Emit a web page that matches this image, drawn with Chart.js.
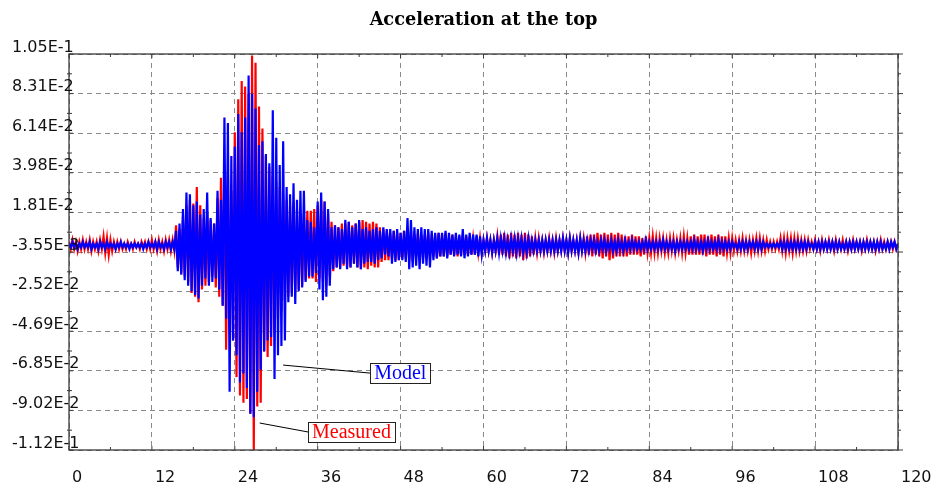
<!DOCTYPE html>
<html>
<head>
<meta charset="utf-8">
<script src="https://cdn.jsdelivr.net/npm/chart.js@4.4.1/dist/chart.umd.min.js"></script>
<style>
  html, body { margin: 0; padding: 0; background: #fff; }
  canvas { display: block; }
</style>
</head>
<body>
<canvas id="chart" width="933" height="486"></canvas>
<script>
// acceleration peaks, in units of 1e-3, one value every 0.25 s
const sampleStep = 0.25;

const measured = [
  2,-2,3,-2,2,-3,2,-2,3,-2,2,-2,3,-3,2,-2,2,-3,3,-2,
  5,-4,4,-5,3,-3,2,-2,2,-2,2,-2,1,-2,2,-1,1,-2,2,-1,
  1,-2,2,-1,2,-2,2,-2,3,-2,2,-3,3,-2,2,-3,3,-2,3,-3,
  3,-3,11,-12,9,-15,16,-17,22,-20,25,-26,23,-28,32,-31,22,-24,15,-22,
  18,-20,14,-17,12,-23,26,-28,37,-33,45,-57,40,-48,30,-52,62,-72,80,-82,
  90,-86,87,-84,83,-92,104,-112,100,-88,76,-86,64,-58,49,-61,43,-55,38,-48,
  35,-40,32,-36,28,-30,25,-28,22,-26,24,-25,20,-24,18,-22,17,-19,19,-18,
  19,-18,20,-20,22,-18,25,-20,24,-22,18,-17,13,-14,11,-12,10,-12,12,-11,
  12,-11,13,-12,11,-10,12,-12,13,-13,14,-12,13,-13,12,-11,13,-12,12,-12,
  10,-9,9,-8,8,-8,7,-7,8,-8,7,-8,7,-7,8,-7,9,-8,8,-9,
  6,-6,7,-6,6,-7,6,-6,7,-6,6,-6,6,-7,7,-6,6,-6,7,-6,
  5,-5,6,-5,5,-6,5,-5,6,-5,5,-5,5,-5,4,-5,5,-4,4,-4,
  3,-3,4,-3,3,-4,3,-3,5,-5,6,-5,7,-6,6,-7,7,-6,6,-7,
  7,-6,6,-8,7,-7,6,-6,5,-5,4,-4,4,-3,3,-4,3,-3,4,-3,
  3,-4,4,-3,3,-3,4,-3,3,-4,4,-3,3,-3,3,-4,4,-3,4,-4,
  5,-5,6,-6,6,-5,7,-6,6,-7,7,-6,6,-8,7,-7,6,-6,7,-6,
  6,-6,5,-6,5,-5,6,-5,5,-5,5,-6,4,-5,5,-4,4,-4,5,-4,
  4,-4,4,-3,4,-4,3,-4,4,-3,4,-4,3,-3,4,-4,5,-4,4,-5,
  5,-5,6,-5,5,-5,6,-5,6,-6,5,-5,6,-5,5,-6,6,-5,5,-6,
  5,-4,4,-4,4,-3,3,-3,3,-3,4,-3,3,-3,3,-4,3,-3,4,-3,
  4,-3,3,-3,3,-2,2,-2,2,-2,2,-2,4,-3,4,-4,4,-3,4,-4,
  4,-3,4,-3,3,-3,3,-3,3,-2,2,-2,3,-2,2,-3,3,-2,2,-2,
  3,-2,2,-3,3,-2,2,-2,3,-2,2,-3,2,-2,3,-2,2,-2,2,-3,
  2,-2,3,-2,2,-2,2,-3,2,-2,3,-2,2,-2,2,-2,2,-2,2,-2,
  1
];

const model = [
  1,-1,2,-1,1,-2,1,-1,2,-1,1,-1,2,-2,1,-1,1,-2,2,-1,
  1,-2,2,-1,1,-1,1,-2,1,-1,2,-1,1,-1,1,-2,1,-1,1,-1,
  1,-1,1,-2,1,-1,2,-1,1,-1,2,-2,2,-1,1,-2,2,-1,2,-2,
  2,-2,8,-14,12,-16,20,-19,29,-22,28,-25,22,-27,24,-29,17,-22,20,-18,
  29,-22,15,-20,12,-18,30,-24,25,-33,70,-40,67,-80,49,-52,54,-60,72,-75,
  62,-70,70,-78,93,-92,83,-94,75,-80,55,-68,57,-58,50,-52,45,-50,74,-73,
  59,-60,44,-55,57,-52,32,-31,28,-28,34,-32,25,-25,30,-23,30,-20,14,-17,
  13,-17,10,-15,24,-24,29,-30,24,-28,20,-22,10,-13,11,-12,10,-13,9,-10,
  14,-13,13,-12,10,-10,12,-12,14,-13,9,-10,10,-9,8,-9,9,-10,10,-8,
  8,-7,10,-5,9,-6,9,-10,8,-9,9,-8,7,-8,8,-9,15,-13,14,-12,
  10,-11,9,-13,10,-10,9,-11,9,-12,8,-8,7,-7,7,-6,7,-6,8,-7,
  7,-5,6,-6,7,-5,6,-6,9,-7,6,-6,7,-5,6,-5,6,-6,5,-5,
  3,-3,4,-3,3,-4,3,-3,4,-4,4,-3,4,-4,3,-4,4,-3,4,-4,
  4,-3,4,-4,3,-4,4,-3,3,-3,3,-3,3,-3,3,-3,3,-3,3,-3,
  3,-3,3,-3,3,-3,4,-3,3,-4,4,-3,3,-3,3,-4,4,-3,3,-3,
  3,-3,3,-2,3,-3,2,-3,3,-2,3,-3,2,-2,3,-3,2,-3,3,-2,
  2,-3,3,-2,2,-2,3,-2,2,-2,2,-2,2,-2,3,-2,2,-2,2,-2,
  2,-2,2,-2,3,-2,2,-2,2,-2,2,-3,2,-2,2,-2,2,-2,2,-2,
  2,-2,3,-2,2,-2,2,-3,2,-2,3,-2,2,-2,2,-2,3,-2,2,-2,
  2,-2,2,-2,2,-1,1,-2,2,-2,2,-2,2,-2,2,-1,2,-2,2,-2,
  2,-2,2,-1,1,-1,1,-1,1,-1,1,-1,2,-2,2,-2,2,-2,2,-2,
  2,-2,2,-2,2,-2,2,-2,2,-1,1,-2,2,-2,2,-2,2,-2,2,-2,
  2,-2,2,-2,2,-2,2,-2,1,-2,2,-2,2,-2,2,-2,2,-2,2,-2,
  2,-2,2,-2,2,-2,2,-2,2,-2,2,-2,1,-2,2,-2,2,-1,2,-2,
  1
];

const xTicks = [0, 12, 24, 36, 48, 60, 72, 84, 96, 108, 120];
const yTicks = [-111.86, -90.20, -68.54, -46.88, -25.22, -3.55, 18.11, 39.77, 61.43, 83.09, 104.76];
const yTickLabels = ['-1.12E-1', '-9.02E-2', '-6.85E-2', '-4.69E-2', '-2.52E-2', '-3.55E-3',
                     '1.81E-2', '3.98E-2', '6.14E-2', '8.31E-2', '1.05E-1'];

// labelled leader lines: from the curve to the box (time, value)
const callouts = [
  { text: 'Model', color: '#0000ff', from: [31.0, -65.4], to: [43.6, -69.8] },
  { text: 'Measured', color: '#ff0000', from: [27.6, -97.1], to: [34.6, -102.0] }
];

const titleText = 'Acceleration at the top';

const toPoints = vals => vals.map((v, i) => ({ x: i * sampleStep, y: v }));

const framePlugin = {
  id: 'frame',
  afterDraw(chart) {
    const ctx = chart.ctx;
    const a = chart.chartArea;
    const xs = chart.scales.x, ys = chart.scales.y;

    ctx.save();
    // box
    ctx.strokeStyle = '#3a3a3a';
    ctx.lineWidth = 1.3;
    ctx.strokeRect(a.left, a.top, a.right - a.left, a.bottom - a.top);

    // tick marks
    ctx.lineWidth = 1;
    ctx.beginPath();
    xTicks.forEach((t, i) => {
      const px = xs.getPixelForValue(t);
      ctx.moveTo(px, a.bottom); ctx.lineTo(px, a.bottom - 4);
      ctx.moveTo(px, a.top); ctx.lineTo(px, a.top + 4);
      if (i < xTicks.length - 1) {
        const mx = xs.getPixelForValue((t + xTicks[i + 1]) / 2);
        ctx.moveTo(mx, a.bottom); ctx.lineTo(mx, a.bottom - 3);
        ctx.moveTo(mx, a.top); ctx.lineTo(mx, a.top + 3);
      }
    });
    yTicks.forEach((v, i) => {
      const py = ys.getPixelForValue(v);
      ctx.moveTo(a.left, py); ctx.lineTo(a.left + 4, py);
      ctx.moveTo(a.right, py); ctx.lineTo(a.right + 5, py);
      if (i < yTicks.length - 1) {
        const my = ys.getPixelForValue((v + yTicks[i + 1]) / 2);
        ctx.moveTo(a.left - 2, my); ctx.lineTo(a.left + 3, my);
        ctx.moveTo(a.right, my); ctx.lineTo(a.right + 3, my);
      }
    });
    ctx.stroke();

    // tick labels
    ctx.fillStyle = '#111';
    ctx.font = '16px "DejaVu Sans"';
    ctx.textBaseline = 'middle';
    ctx.textAlign = 'left';
    yTicks.forEach((v, i) => {
      ctx.fillText(yTickLabels[i], 12, ys.getPixelForValue(v) - 6.5);
    });
    xTicks.forEach(t => {
      ctx.fillText(String(t), xs.getPixelForValue(t) + 3, a.bottom + 28);
    });

    // title
    ctx.font = 'bold 16px "DejaVu Serif"';
    const w = ctx.measureText(titleText).width;
    const size = 16 * 228 / w;
    ctx.font = 'bold ' + size.toFixed(2) + 'px "DejaVu Serif"';
    ctx.textAlign = 'center';
    ctx.fillStyle = '#000';
    ctx.fillText(titleText, (a.left + a.right) / 2, 20);

    // callouts
    ctx.font = '20px "Liberation Serif"';
    ctx.textAlign = 'left';
    callouts.forEach(c => {
      const x1 = xs.getPixelForValue(c.from[0]), y1 = ys.getPixelForValue(c.from[1]);
      const x2 = xs.getPixelForValue(c.to[0]), y2 = ys.getPixelForValue(c.to[1]);
      ctx.strokeStyle = '#000';
      ctx.lineWidth = 1;
      ctx.beginPath();
      ctx.moveTo(x1, y1); ctx.lineTo(x2, y2);
      ctx.stroke();
      const tw = ctx.measureText(c.text).width;
      const bw = tw + 8, bh = 20;
      ctx.fillStyle = '#fff';
      ctx.fillRect(x2, y2 - bh / 2, bw, bh);
      ctx.strokeStyle = '#222';
      ctx.strokeRect(Math.round(x2) + 0.5, Math.round(y2 - bh / 2) + 0.5, Math.round(bw), bh);
      ctx.fillStyle = c.color;
      ctx.fillText(c.text, x2 + 4, y2 + 1);
    });
    ctx.restore();
  }
};

new Chart(document.getElementById('chart').getContext('2d'), {
  type: 'line',
  data: {
    datasets: [
      {
        label: 'Model',
        data: toPoints(model),
        borderColor: '#0000ff',
        borderWidth: 2.2,
        pointRadius: 0,
        tension: 0,
        order: 1
      },
      {
        label: 'Measured',
        data: toPoints(measured),
        borderColor: '#ff0000',
        borderWidth: 2.2,
        pointRadius: 0,
        tension: 0,
        order: 2
      }
    ]
  },
  options: {
    responsive: false,
    animation: false,
    events: [],
    layout: { padding: { left: 69, top: 54, right: 35, bottom: 36 } },
    plugins: { legend: { display: false }, tooltip: { enabled: false }, title: { display: false } },
    scales: {
      x: {
        type: 'linear',
        min: 0,
        max: 120,
        afterBuildTicks: s => { s.ticks = xTicks.map(v => ({ value: v })); },
        ticks: { display: false },
        grid: { color: '#8a8a8a', lineWidth: 1, drawTicks: false },
        border: { display: false, dash: [5, 4] }
      },
      y: {
        type: 'linear',
        min: yTicks[0],
        max: yTicks[yTicks.length - 1],
        afterBuildTicks: s => { s.ticks = yTicks.map(v => ({ value: v })); },
        ticks: { display: false },
        grid: { color: '#8a8a8a', lineWidth: 1, drawTicks: false },
        border: { display: false, dash: [5, 4] }
      }
    }
  },
  plugins: [framePlugin]
});
</script>
</body>
</html>
